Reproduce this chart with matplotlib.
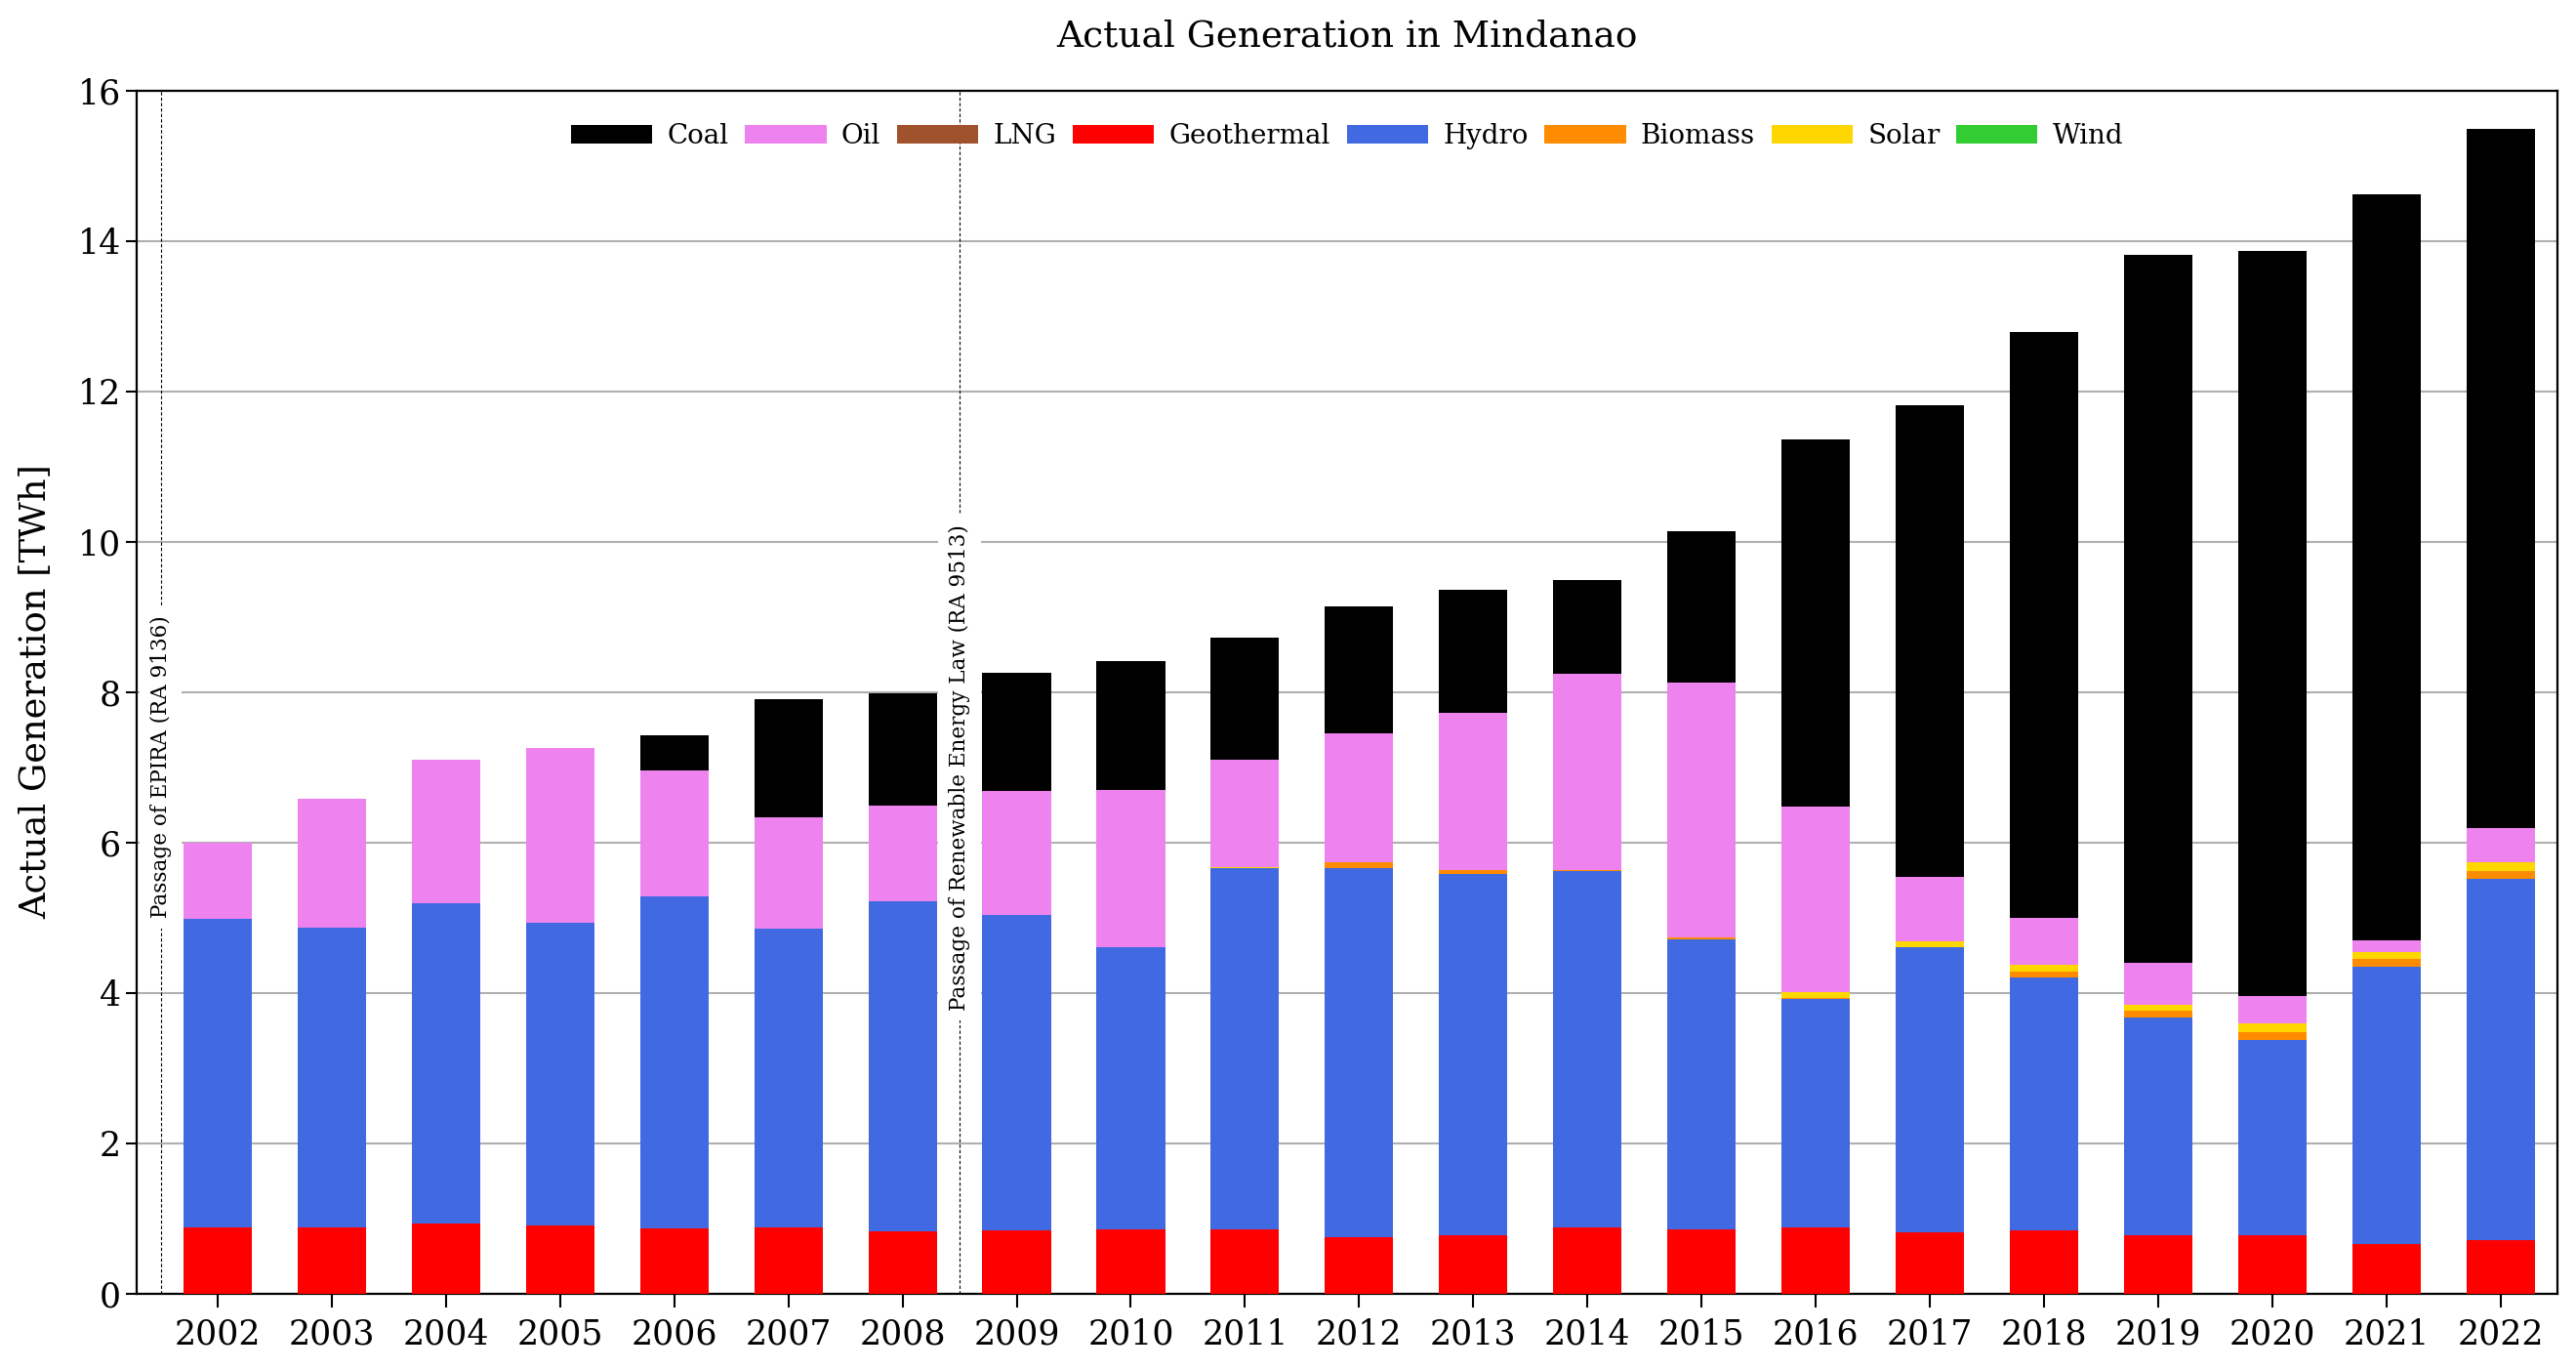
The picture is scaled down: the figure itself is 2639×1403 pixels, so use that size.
import matplotlib.pyplot as plt
import numpy as np

plt.rcParams['font.family'] = ['DejaVu Serif']

# Data (TWh)
years = [str(y) for y in range(2002, 2023)]

geothermal = [0.88, 0.88, 0.93, 0.90, 0.87, 0.88, 0.82, 0.84, 0.85, 0.85, 0.75,
              0.77, 0.88, 0.85, 0.88, 0.81, 0.84, 0.77, 0.77, 0.66, 0.71]
hydro = [4.10, 3.98, 4.26, 4.03, 4.41, 3.97, 4.39, 4.19, 3.75, 4.81, 4.91,
         4.81, 4.74, 3.86, 3.04, 3.79, 3.36, 2.90, 2.60, 3.69, 4.80]
biomass = [0, 0, 0, 0, 0, 0, 0, 0, 0, 0, 0.07,
           0.05, 0.01, 0.03, 0.01, 0.0, 0.08, 0.09, 0.10, 0.10, 0.11]
solar = [0, 0, 0, 0, 0, 0, 0, 0, 0, 0.015, 0,
         0, 0, 0, 0.08, 0.08, 0.09, 0.08, 0.12, 0.09, 0.12]
wind = [0] * 21
lng = [0] * 21
oil = [1.01, 1.72, 1.91, 2.33, 1.67, 1.48, 1.28, 1.65, 2.09, 1.42, 1.72,
       2.09, 2.61, 3.38, 2.47, 0.86, 0.62, 0.56, 0.37, 0.16, 0.45]
coal = [0, 0, 0, 0, 0.47, 1.57, 1.49, 1.57, 1.72, 1.63, 1.69,
        1.64, 1.25, 2.02, 4.88, 6.27, 7.80, 9.41, 9.90, 9.92, 9.30]

# stacking order bottom -> top
stack = [
    ('Geothermal', geothermal, 'red'),
    ('Hydro', hydro, 'royalblue'),
    ('Biomass', biomass, 'darkorange'),
    ('Solar', solar, 'gold'),
    ('Wind', wind, 'limegreen'),
    ('LNG', lng, 'sienna'),
    ('Oil', oil, 'violet'),
    ('Coal', coal, 'black'),
]
legend_order = ['Coal', 'Oil', 'LNG', 'Geothermal', 'Hydro', 'Biomass', 'Solar', 'Wind']

fig = plt.figure(figsize=(26.39, 14.03), dpi=100)
ax = fig.add_axes([0.05305, 0.05588, 0.9398, 0.8781])

x = np.arange(len(years))
bottom = np.zeros(len(years))
handles = {}
for name, vals, color in stack:
    vals = np.array(vals, dtype=float)
    handles[name] = ax.bar(x, vals, 0.6, bottom=bottom, color=color, label=name, zorder=3)
    bottom += vals

ax.set_xlim(-0.71, 20.5)
ax.set_ylim(0, 16)
ax.set_xticks(x)
ax.set_xticklabels(years, fontsize=25)
ax.set_yticks(range(0, 17, 2))
ax.tick_params(axis='y', labelsize=25, length=8, width=1.5)
ax.tick_params(axis='x', length=10, width=1.5, pad=8)
ax.yaxis.grid(True, color='#b0b0b0', linewidth=1.5, zorder=0)
ax.set_axisbelow(True)
for s in ax.spines.values():
    s.set_linewidth(1.6)

# policy markers
for xp, txt in [(-0.5, 'Passage of EPIRA (RA 9136)'),
                (6.5, 'Passage of Renewable Energy Law (RA 9513)')]:
    ax.axvline(xp, color='black', linestyle=(0, (3, 2)), linewidth=0.8, zorder=4)
    ax.text(xp, 7.0, txt, rotation=90, ha='center', va='center', fontsize=15.5,
            zorder=6, clip_on=False,
            bbox=dict(facecolor='white', edgecolor='none', boxstyle='square,pad=0.5'))

ax.legend([handles[n] for n in legend_order], legend_order, loc='upper center',
          bbox_to_anchor=(0.5, 0.993), ncol=8, frameon=False, fontsize=20,
          handlelength=3.0, handletextpad=0.55, columnspacing=0.6)

fig.text(0.5229, 0.9736, 'Actual Generation in Mindanao', ha='center', va='center', fontsize=27)
fig.text(0.014, 0.495, 'Actual Generation [TWh]', rotation=90, ha='center', va='center', fontsize=26.5)

fig.savefig('out.png', dpi=100)
